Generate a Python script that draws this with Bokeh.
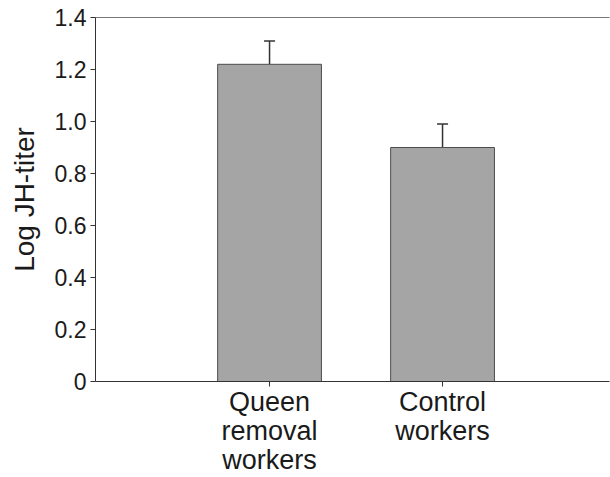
from bokeh.plotting import figure
from bokeh.models import ColumnDataSource, FixedTicker, LinearAxis, Range1d, Whisker, TeeHead
from bokeh.embed import file_html
from bokeh.resources import INLINE

# Data
categories = ["Queen\nremoval\nworkers", "Control\nworkers"]
positions = [1, 2]
means = [1.22, 0.90]
errors = [0.09, 0.09]
y_ticks = [0, 0.2, 0.4, 0.6, 0.8, 1.0, 1.2, 1.4]
y_tick_labels = ["0", "0.2", "0.4", "0.6", "0.8", "1.0", "1.2", "1.4"]

upper = [m + e for m, e in zip(means, errors)]
src = ColumnDataSource(dict(x=positions, top=means, upper=upper))

FONT = "Liberation Sans"
TXT = "#1a1a1a"
AX = "#333333"

p = figure(width=610, height=477, output_backend="svg", toolbar_location=None,
           x_range=Range1d(-0.006, 2.965), y_range=Range1d(0, 1.4),
           min_border_left=95, min_border_top=17, min_border_right=1, min_border_bottom=96)
p.outline_line_color = None
p.grid.visible = False
p.background_fill_color = "white"
p.border_fill_color = "white"

p.vbar(x="x", top="top", bottom=0, width=0.6, source=src,
       fill_color="#a5a5a5", line_color="#4d4d4d", line_width=1)

w = Whisker(base="x", upper="upper", lower="top", source=src,
            upper_head=TeeHead(size=11, line_color=AX, line_width=1.5),
            lower_head=None, line_color=AX, line_width=1.5)
p.add_layout(w)

# y axis
ya = p.yaxis[0]
ya.ticker = FixedTicker(ticks=y_ticks)
ya.major_label_overrides = {t: l for t, l in zip(y_ticks, y_tick_labels)}
ya.axis_label = "Log JH-titer"
ya.axis_label_text_font = FONT
ya.axis_label_text_font_size = "28px"
ya.axis_label_text_font_style = "normal"
ya.axis_label_text_color = TXT
ya.axis_label_standoff = 12
ya.major_label_text_font = FONT
ya.major_label_text_font_size = "23px"
ya.major_label_text_color = TXT
ya.major_label_standoff = 4
ya.major_tick_out = 5
ya.major_tick_in = 0
ya.minor_tick_out = 0
ya.minor_tick_in = 0
ya.axis_line_color = AX
ya.major_tick_line_color = AX

# x axis
xa = p.xaxis[0]
xa.ticker = FixedTicker(ticks=positions)
xa.major_label_overrides = {x: c for x, c in zip(positions, categories)}
xa.major_label_text_font = FONT
xa.major_label_text_font_size = "27px"
xa.major_label_text_color = TXT
xa.major_label_text_line_height = 0.97
xa.major_label_standoff = 0
xa.major_tick_out = 5
xa.major_tick_in = 0
xa.minor_tick_out = 0
xa.minor_tick_in = 0
xa.axis_line_color = AX
xa.major_tick_line_color = AX

# top border line
top = LinearAxis(major_tick_out=0, major_tick_in=0, minor_tick_out=0, minor_tick_in=0,
                 axis_line_color="#777777")
top.ticker = FixedTicker(ticks=[])
p.add_layout(top, "above")

open("out.html", "w").write(file_html(p, INLINE))
